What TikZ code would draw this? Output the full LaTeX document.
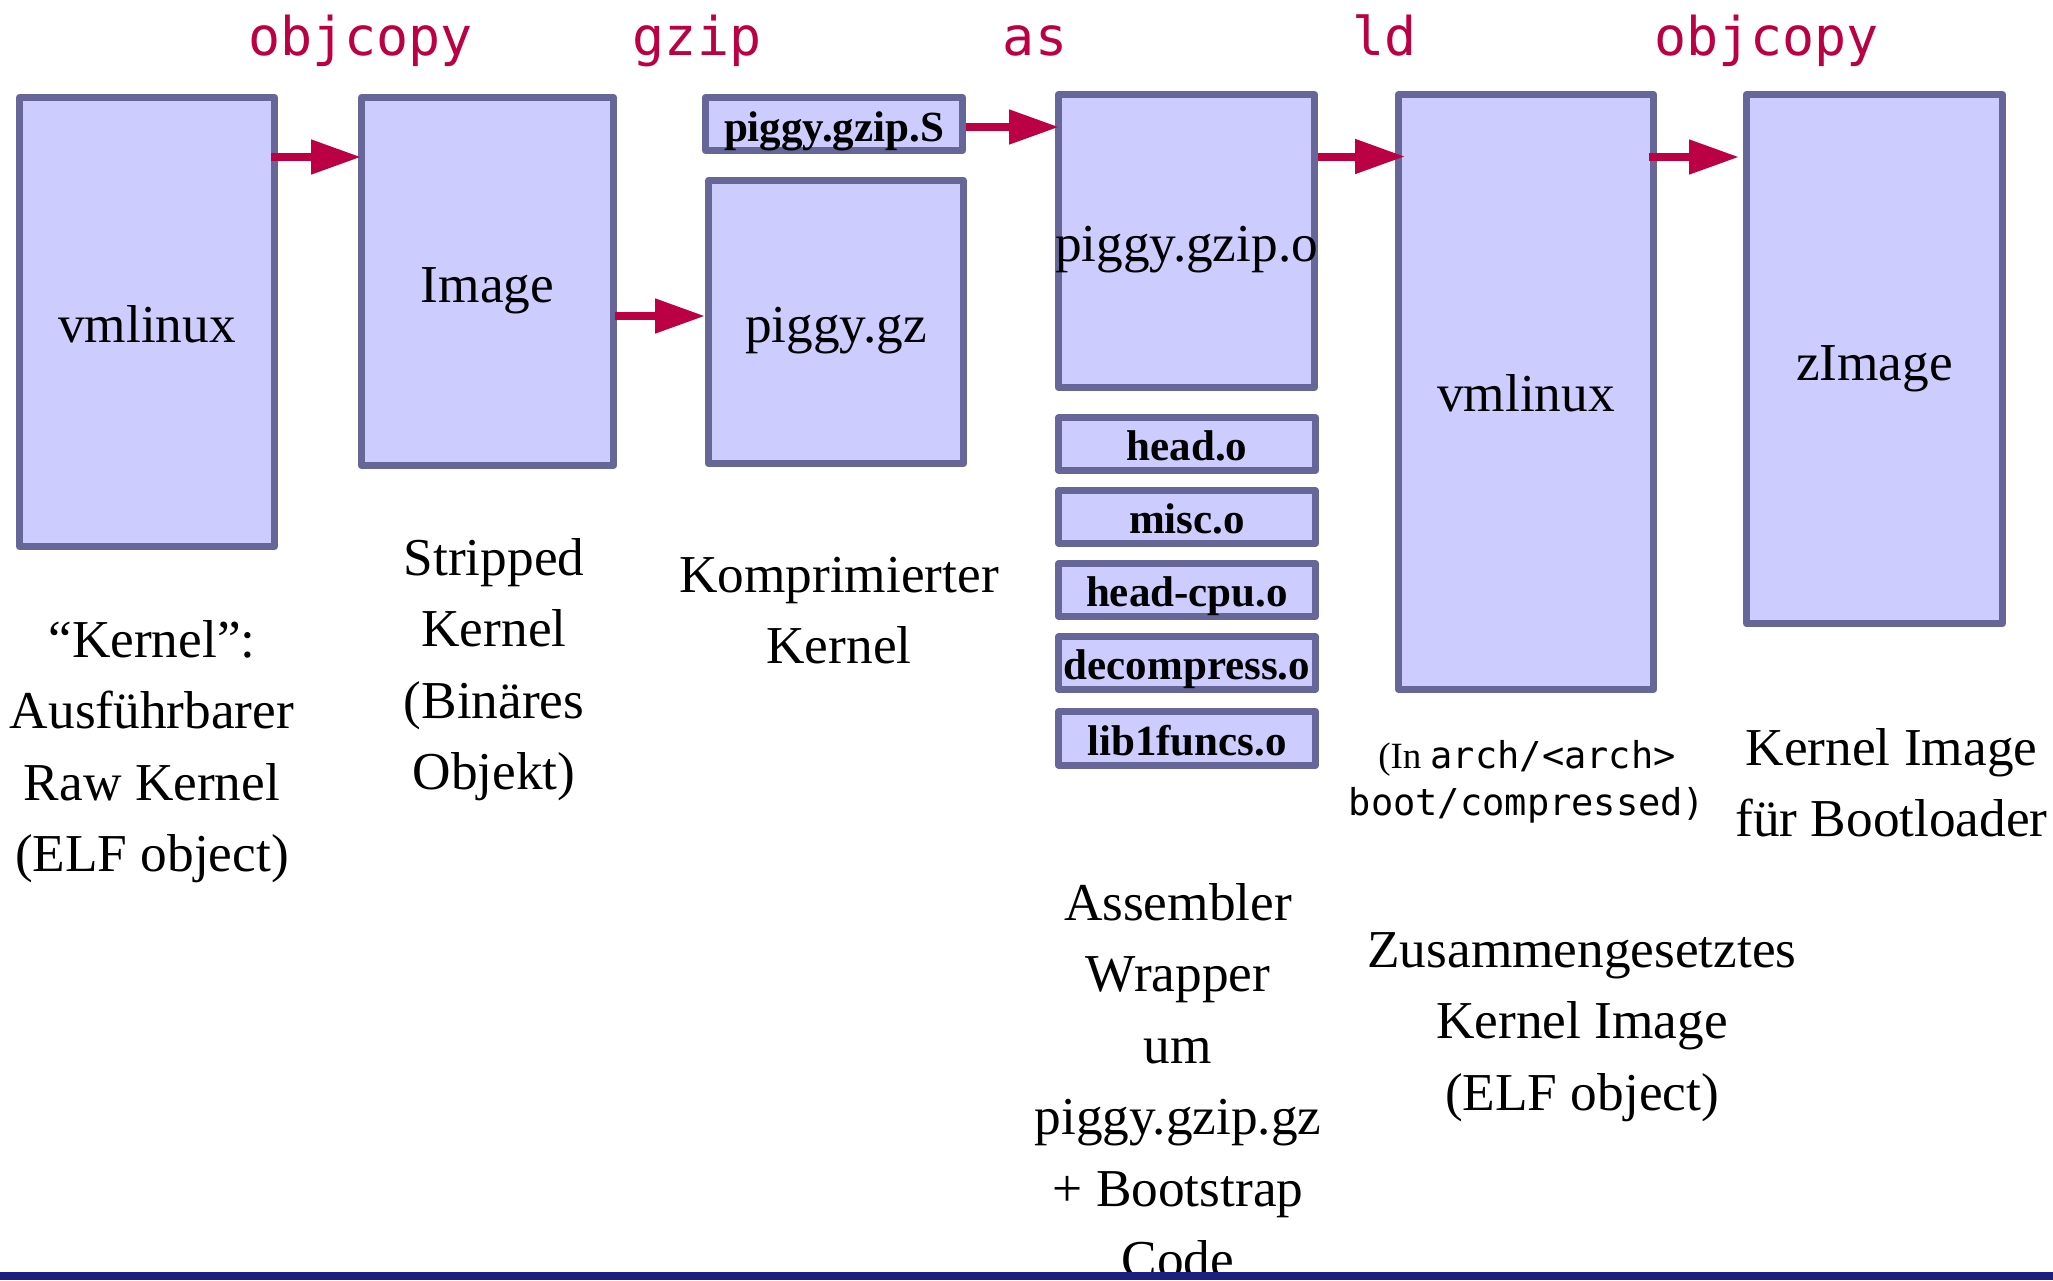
\documentclass[tikz,border=0pt]{standalone}
\usepackage{fontspec}
\setmainfont{Liberation Serif}
\setmonofont{DejaVu Sans Mono}
\usetikzlibrary{arrows.meta,calc}
\definecolor{boxfill}{HTML}{CCCCFF}
\definecolor{boxline}{HTML}{666699}
\definecolor{arrcol}{HTML}{BB0044}
\definecolor{barcol}{HTML}{1B1F80}
\begin{document}
\begin{tikzpicture}[x=1pt,y=-1pt,
  box/.style={draw=boxline, fill=boxfill, line width=7pt, line join=round, inner sep=0pt},
  big/.style={font=\fontsize{53.3}{71.5}\selectfont, inner sep=0pt, anchor=base, align=center},
  boldlbl/.style={font=\fontsize{43}{50}\selectfont\bfseries, inner sep=0pt, anchor=base},
  cmd/.style={font=\fontsize{53.3}{60}\selectfont\ttfamily, text=arrcol, inner sep=0pt, anchor=base},
  smalllbl/.style={font=\fontsize{37}{47}\selectfont, inner sep=0pt, anchor=base, align=center},
  arr/.style={draw=arrcol, line width=8pt, -{Triangle[length=50pt,width=33pt]}}]
\useasboundingbox (0,0) rectangle (2053,1280);

% boxes
\node[box, minimum width=255pt, minimum height=449pt] (v1) at (147,322) {};
\node[box, minimum width=252pt, minimum height=368pt] (img) at (487.5,281.5) {};
\node[box, minimum width=257pt, minimum height=53.5pt] (pS) at (834,124) {};
\node[box, minimum width=255pt, minimum height=283pt] (pgz) at (836,322) {};
\node[box, minimum width=256pt, minimum height=293pt] (pgo) at (1186.5,241) {};
\node[box, minimum width=257pt, minimum height=52.5pt] (ho) at (1187,444) {};
\node[box, minimum width=257pt, minimum height=52.5pt] (mo) at (1187,517) {};
\node[box, minimum width=257pt, minimum height=52.5pt] (hco) at (1187,590) {};
\node[box, minimum width=257pt, minimum height=52.5pt] (dco) at (1187,663) {};
\node[box, minimum width=257pt, minimum height=53.5pt] (lfo) at (1187,738.5) {};
\node[box, minimum width=255pt, minimum height=595pt] (vm2) at (1526,392) {};
\node[box, minimum width=256pt, minimum height=529pt] (zi) at (1874.5,359) {};

% arrows
\draw[arr, shorten <=-7pt, shorten >=-3pt] ($(v1.north east)+(0,63)$) -- ($(img.north west)+(0,63)$);
\draw[arr, shorten <=-2pt] ($(img.north east)+(0,222)$) -- ($(pgz.north west)+(0,139)$);
\draw[arr, shorten >=-4pt] ($(pS.east)+(0,3)$) -- ($(pgo.north west)+(0,36)$);
\draw[arr, shorten >=-10pt] ($(pgo.north east)+(0,65.5)$) -- ($(vm2.north west)+(0,65.5)$);
\draw[arr, shorten <=-8pt, shorten >=4pt] ($(vm2.north east)+(0,66)$) -- ($(zi.north west)+(0,66)$);

% command labels
\node[cmd] (c1) at (360.7,55) {objcopy};
\node[cmd] (c2) at (697,55) {gzip};
\node[cmd] (c3) at (1035,55) {as};
\node[cmd] (c4) at (1384.6,55) {ld};
\node[cmd] (c5) at (1766.5,55) {objcopy};

% box texts
\node[big] (v1t) at (147,342) {vmlinux};
\node[big] (imgt) at (487.5,302) {Image};
\node[boldlbl] (pSt) at (834,141.5) {piggy.gzip.S};
\node[big] (pgzt) at (836,342) {piggy.gz};
\node[big] (pgot) at (1186.5,261) {piggy.gzip.o};
\node[boldlbl] (hot) at (1187,460) {head.o};
\node[boldlbl] (mot) at (1187,533.5) {misc.o};
\node[boldlbl] (hcot) at (1187,606.5) {head-cpu.o};
\node[boldlbl] (dcot) at (1187,679.5) {decompress.o};
\node[boldlbl] (lfot) at (1187,755) {lib1funcs.o};
\node[big] (vm2t) at (1526,411) {vmlinux};
\node[big] (zit) at (1874.5,380) {zImage};

% captions (anchor base = baseline of the last line)
\node[big] (cap1) at (152,871.5) {“Kernel”:\\Ausführbarer\\Raw Kernel\\(ELF object)};
\node[big] (cap2) at (494,789.5) {Stripped\\Kernel\\(Binäres\\Objekt)};
\node[big] (cap3) at (839,663.5) {Komprimierter\\Kernel};
\node[big] (cap4) at (1178,1277.5) {Assembler\\Wrapper\\um\\piggy.gzip.gz\\+ Bootstrap\\Code};
\node[smalllbl] (cap5) at (1527,815) {(In \texttt{arch/<arch>}\\\texttt{boot/compressed)}};
\node[big] (cap6) at (1891.5,836.5) {Kernel Image\\für Bootloader};
\node[big] (cap7) at (1582,1110) {Zusammengesetztes\\Kernel Image\\(ELF object)};

% bottom bar
\fill[barcol] (0,1272) rectangle (2053,1280);
\end{tikzpicture}
\end{document}
